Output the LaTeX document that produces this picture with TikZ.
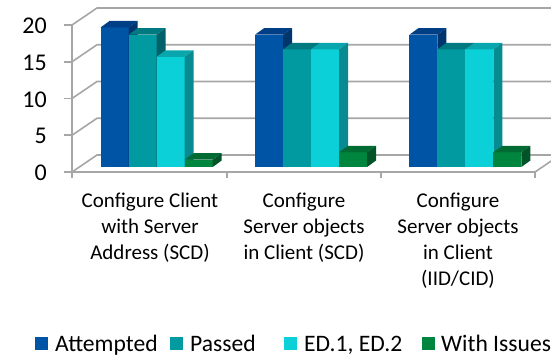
\documentclass[tikz,border=0pt]{standalone}
\usepackage{fontspec}
\setmainfont{Carlito}
\usepackage{tikz}
\usetikzlibrary{positioning}
\definecolor{attfront}{HTML}{0054A6}
\definecolor{atttop}{HTML}{003F85}
\definecolor{attside}{HTML}{00356E}
\definecolor{pasfront}{HTML}{009AA0}
\definecolor{pastop}{HTML}{007A80}
\definecolor{passide}{HTML}{006268}
\definecolor{edfront}{HTML}{0CD0D8}
\definecolor{edtop}{HTML}{0AA6AD}
\definecolor{edside}{HTML}{078A90}
\definecolor{issfront}{HTML}{00853F}
\definecolor{isstop}{HTML}{006C34}
\definecolor{issside}{HTML}{005428}
\definecolor{gridgray}{HTML}{A6A6A6}
\tikzset{
	grid line/.style = {draw=gridgray, line width=1.6pt},
	tick label/.style = {anchor=east, inner sep=0pt, font=\fontsize{24}{28}\selectfont},
	cat label/.style = {anchor=base, inner sep=0pt, align=center, font=\fontsize{21}{26}\selectfont},
	key box/.style = {minimum size=13pt, inner sep=0pt, anchor=west},
	key label/.style = {anchor=base west, inner sep=0pt, font=\fontsize{23.6}{28}\selectfont},
}
\begin{document}
\begin{tikzpicture}[x=1pt,y=-1pt]
	\useasboundingbox (0,0) rectangle (551,356);
	\clip (0,0) rectangle (551,356);

	% Walls and grid lines
	\foreach \v in {0,5,...,20}
		{   \draw[grid line] (72,172-7.35*\v) -- (97,155-7.35*\v) -- (560,155-7.35*\v);
			\draw[grid line] (64,172-7.35*\v) -- (72,172-7.35*\v);
			\node[tick label] (tick\v) at (47,173-7.35*\v) {\v};
		}
	\draw[grid line] (72,25) -- (72,178);
	\draw[grid line] (72,172) -- (535,172) -- (560,155);
	\foreach \x in {227,381,535}
		\draw[grid line] (\x,172) -- (\x,178);

	% Bars: front, top, side
	\foreach \g/\a/\b/\c/\d in {0/19/18/15/1, 1/18/16/16/2, 2/18/16/16/2}
		{   \foreach \k/\v/\col in {0/\a/att, 1/\b/pas, 2/\c/ed, 3/\d/iss}
				{   \pgfmathsetmacro\xl{100.7+154.33*\g+28*\k}
					\pgfmathsetmacro\yt{167-7.35*\v}
					\fill[\col front] (\xl,167) rectangle (\xl+28,\yt);
					\fill[\col top] (\xl,\yt) -- (\xl+28,\yt) -- (\xl+37,\yt-6.5) -- (\xl+9,\yt-6.5) -- cycle;
					\fill[\col side] (\xl+28,167) -- (\xl+28,\yt) -- (\xl+37,\yt-6.5) -- (\xl+37,160.5) -- cycle;
				}
		}

	% Category labels (anchored at the last line)
	\node[cat label] (cat1) at (150,259) {Configure Client\\with Server\\Address (SCD)};
	\node[cat label] (cat2) at (304,259) {Configure\\Server objects\\in Client (SCD)};
	\node[cat label] (cat3) at (458,285) {Configure\\Server objects\\in Client\\(IID/CID)};

	% Legend
	\node[key box, fill=attfront] (keyA) at (35,343) {};
	\node[key label] (labA) at (55,351) {Attempted};
	\node[key box, fill=pasfront] (keyP) at (170,343) {};
	\node[key label] (labP) at (190,351) {Passed};
	\node[key box, fill=edfront] (keyE) at (284,343) {};
	\node[key label] (labE) at (304,351) {ED.1, ED.2};
	\node[key box, fill=issfront] (keyI) at (422,343) {};
	\node[key label] (labI) at (441,351) {With Issues};
\end{tikzpicture}
\end{document}
